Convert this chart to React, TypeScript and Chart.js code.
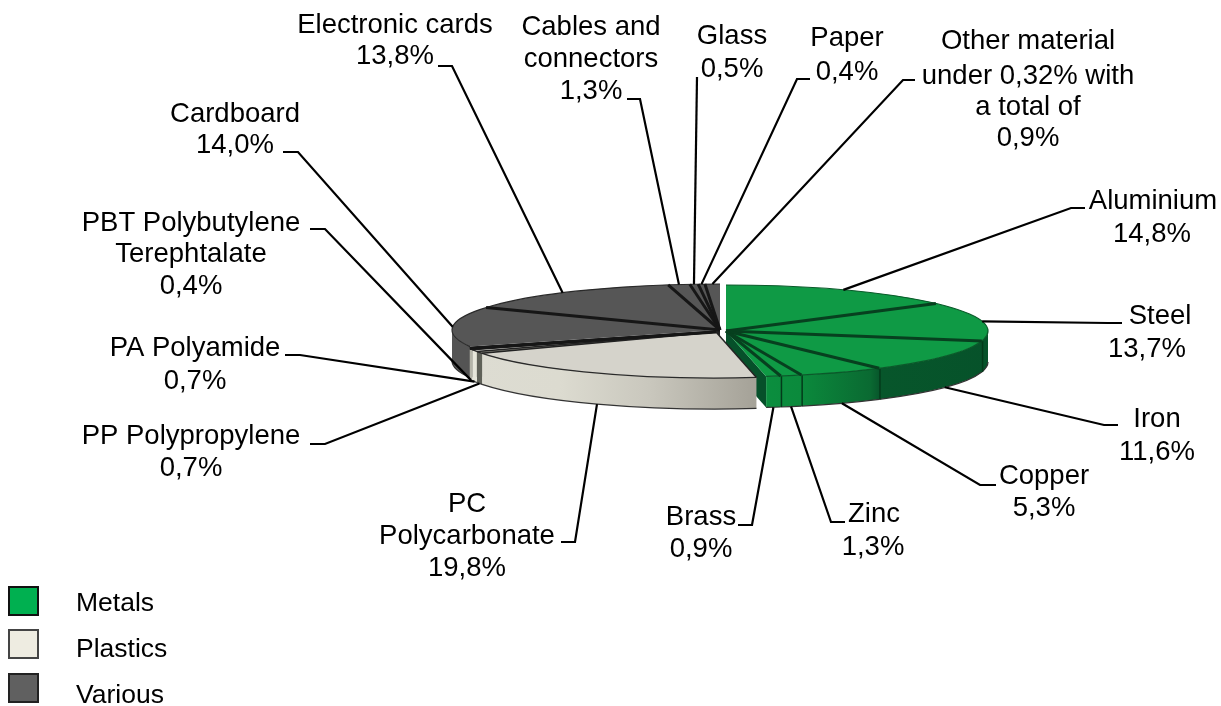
import React, { useEffect, useRef } from "react";
import { Chart, registerables } from "chart.js";

Chart.register(...registerables);

// ---------- data ----------
const categories = [
  "Aluminium", "Steel", "Iron", "Copper", "Zinc", "Brass",
  "PC Polycarbonate", "PP Polypropylene", "PA Polyamide", "PBT Polybutylene Terephtalate",
  "Cardboard", "Electronic cards", "Cables and connectors", "Glass", "Paper",
  "Other material under 0,32% with a total of",
];
const values = [14.8, 13.7, 11.6, 5.3, 1.3, 0.9, 19.8, 0.7, 0.7, 0.4, 14.0, 13.8, 1.3, 0.5, 0.4, 0.9];
const materialGroup = [0, 0, 0, 0, 0, 0, 1, 1, 1, 1, 2, 2, 2, 2, 2, 2];
const legendNames = ["Metals", "Plastics", "Various"];

// ---------- styles & layout ----------
const topColors = ["#0f9a45", "#d5d3cb", "#565656"];
const sliceOverride: Record<number, string> = { 7: "#8a8a80", 8: "#f4f4ee", 9: "#e8e8e0" };
const rimOverride: Record<number, string> = { 7: "#5f6158", 8: "#e6e6da", 9: "#b4b4a8" };
const legendFill = ["#00b050", "#eeece1", "#606060"];
const legendEdge = ["#111111", "#444444", "#222222"];
const separators = ["#07401f", "#222222", "#161616"];
const CX = 720, CY = 331, RY = 46, DEPTH = 31;
const GROUP_GEOM = [
  { x: 6, y: 0, rx: 262 },
  { x: -4, y: 1, rx: 264 },
  { x: 0, y: -1, rx: 268 },
];
const DRAW_ORDER = [2, 0, 1];
const LABEL_FONT = '27.5px "Liberation Sans", Arial, sans-serif';
const LEGEND_FONT = '26.5px "Liberation Sans", Arial, sans-serif';

type Lbl = { lines: string[]; x: number[]; y: number[]; from: number[]; elbow: number[] };
const labelLayout: Lbl[] = [
  { lines: ["Aluminium"], x: [1153, 1152], y: [201, 234], from: [1085, 208], elbow: [1071, 208] },
  { lines: ["Steel"], x: [1160, 1147], y: [316, 349], from: [1122, 323], elbow: [1108, 323] },
  { lines: ["Iron"], x: [1157, 1157], y: [419, 452], from: [1118, 425], elbow: [1104, 425] },
  { lines: ["Copper"], x: [1044, 1044], y: [476, 508], from: [996, 485], elbow: [980, 485] },
  { lines: ["Zinc"], x: [874, 873], y: [514, 547], from: [845, 522], elbow: [831, 522] },
  { lines: ["Brass"], x: [701, 701], y: [517, 549], from: [738, 525], elbow: [752, 525] },
  { lines: ["PC", "Polycarbonate"], x: [467, 467, 467], y: [504, 536, 568], from: [561, 542], elbow: [575, 542] },
  { lines: ["PP Polypropylene"], x: [191, 191], y: [436, 468], from: [310, 444], elbow: [325, 444] },
  { lines: ["PA Polyamide"], x: [195, 195], y: [348, 381], from: [285, 355], elbow: [300, 355] },
  { lines: ["PBT Polybutylene", "Terephtalate"], x: [191, 191, 191], y: [223, 254, 286], from: [310, 229], elbow: [325, 229] },
  { lines: ["Cardboard"], x: [235, 235], y: [114, 145], from: [283, 152], elbow: [298, 152] },
  { lines: ["Electronic cards"], x: [395, 395], y: [25, 56], from: [438, 66], elbow: [452, 66] },
  { lines: ["Cables and", "connectors"], x: [591, 591, 591], y: [27, 59, 91], from: [627, 99], elbow: [640, 99] },
  { lines: ["Glass"], x: [732, 732], y: [36, 69], from: [697, 77], elbow: [697, 77] },
  { lines: ["Paper"], x: [847, 847], y: [38, 72], from: [810, 79], elbow: [797, 79] },
  { lines: ["Other material", "under 0,32% with", "a total of"], x: [1028, 1028, 1028, 1028], y: [41, 76, 107, 138], from: [915, 80], elbow: [903, 80] },
];
const legendBoxes = [[9, 587], [9, 630], [9, 674]];
const legendTextY = [604, 650, 696];

function rimFill(ctx: CanvasRenderingContext2D, group: number) {
  if (group === 2) return "#545454";
  const g = ctx.createLinearGradient(470, 0, 990, 0);
  const at = (x: number) => (x - 470) / 520;
  if (group === 0) {
    g.addColorStop(at(755), "#0b8f3f");
    g.addColorStop(at(800), "#0b8a3c");
    g.addColorStop(at(870), "#0a6a32");
    g.addColorStop(at(880), "#07562b");
    g.addColorStop(1, "#06522a");
  } else {
    g.addColorStop(0, "#dddcd2");
    g.addColorStop(at(560), "#dcdbd0");
    g.addColorStop(at(650), "#c9c7bd");
    g.addColorStop(at(752), "#a6a399");
  }
  return g;
}

const pie3d = {
  id: "pie3d",
  beforeDatasetDraw(chart: any) {
    const ctx: CanvasRenderingContext2D = chart.ctx;
    const arcs: any[] = chart.getDatasetMeta(0).data;
    const R: number = arcs[0].outerRadius;
    const pt = (g: number, a: number) => ({
      x: CX + GROUP_GEOM[g].x + GROUP_GEOM[g].rx * Math.cos(a),
      y: CY + GROUP_GEOM[g].y + RY * Math.sin(a),
    });

    ctx.save();
    for (const g of DRAW_ORDER) {
      const cx = CX + GROUP_GEOM[g].x, cy = CY + GROUP_GEOM[g].y, rx = GROUP_GEOM[g].rx;
      const idx = arcs.map((_, i) => i).filter((i) => materialGroup[i] === g);

      // end wall facing the viewer
      const lastEnd = g === 0 ? arcs[idx[idx.length - 1]].endAngle : g === 2 ? arcs[idx[0]].startAngle : null;
      if (lastEnd !== null) {
        const p = pt(g, lastEnd);
        ctx.beginPath();
        ctx.moveTo(cx, cy);
        ctx.lineTo(p.x, p.y);
        ctx.lineTo(p.x, p.y + DEPTH);
        ctx.lineTo(cx, cy + DEPTH);
        ctx.closePath();
        ctx.fillStyle = g === 0 ? "#06502a" : "#222222";
        ctx.fill();
      }

      // rim
      for (const i of idx) {
        const lo = Math.max(arcs[i].startAngle, 0);
        const hi = Math.min(arcs[i].endAngle, Math.PI);
        if (hi <= lo) continue;
        ctx.beginPath();
        ctx.ellipse(cx, cy, rx, RY, 0, lo, hi);
        ctx.ellipse(cx, cy + DEPTH, rx, RY, 0, hi, lo, true);
        ctx.closePath();
        ctx.fillStyle = rimOverride[i] ?? rimFill(ctx, g);
        ctx.fill();
        // lower edge
        ctx.beginPath();
        ctx.ellipse(cx, cy + DEPTH, rx, RY, 0, lo, hi);
        ctx.strokeStyle = "#333333";
        ctx.lineWidth = 1.2;
        ctx.stroke();
        // vertical seam on the rim
        if (g === 0 && i < idx[idx.length - 1] && arcs[i].endAngle > 0) {
          const p = pt(g, arcs[i].endAngle);
          ctx.beginPath();
          ctx.moveTo(p.x, p.y);
          ctx.lineTo(p.x, p.y + DEPTH);
          ctx.strokeStyle = "#033a1a";
          ctx.lineWidth = 3;
          ctx.stroke();
        }
      }

      // top faces, squashed pie elements from the chart
      for (const i of idx) {
        ctx.save();
        ctx.translate(cx, cy);
        ctx.scale(rx / R, RY / R);
        ctx.translate(-arcs[i].x, -arcs[i].y);
        arcs[i].draw(ctx);
        ctx.restore();
      }

      // outline of the top face
      ctx.beginPath();
      ctx.ellipse(cx, cy, rx, RY, 0, arcs[idx[0]].startAngle, arcs[idx[idx.length - 1]].endAngle);
      ctx.strokeStyle = g === 0 ? "#0a5a2a" : "#2a2a2a";
      ctx.lineWidth = 1.2;
      ctx.stroke();

      // radial separators
      idx.forEach((i, n) => {
        if (n === 0 && g !== 1) return;
        const p = pt(g, arcs[i].startAngle);
        ctx.beginPath();
        ctx.moveTo(cx, cy);
        ctx.lineTo(p.x, p.y);
        ctx.strokeStyle = separators[g];
        ctx.lineWidth = g === 1 ? 1.5 : 3;
        ctx.stroke();
      });
      if (g === 1) {
        const p = pt(g, arcs[idx[idx.length - 1]].endAngle);
        ctx.beginPath();
        ctx.moveTo(cx, cy);
        ctx.lineTo(p.x, p.y);
        ctx.strokeStyle = "#161616";
        ctx.lineWidth = 3;
        ctx.stroke();
      }
    }
    ctx.restore();
    return false;
  },
  afterDatasetsDraw(chart: any) {
    const ctx: CanvasRenderingContext2D = chart.ctx;
    const arcs: any[] = chart.getDatasetMeta(0).data;
    ctx.save();

    // leader lines and labels
    ctx.strokeStyle = "#000000";
    ctx.lineWidth = 2.2;
    ctx.lineJoin = "miter";
    labelLayout.forEach((l, i) => {
      const mid = (arcs[i].startAngle + arcs[i].endAngle) / 2;
      const geom = GROUP_GEOM[materialGroup[i]];
      const front = Math.sin(mid) > 0.15;
      const ex = CX + geom.x + geom.rx * Math.cos(mid);
      const ey = CY + geom.y + RY * Math.sin(mid) + (front ? DEPTH : 0);
      ctx.strokeStyle = "#000000";
      ctx.lineWidth = 2.2;
      ctx.beginPath();
      ctx.moveTo(l.from[0], l.from[1]);
      ctx.lineTo(l.elbow[0], l.elbow[1]);
      ctx.lineTo(ex, ey);
      ctx.stroke();

      const text = [...l.lines, values[i].toFixed(1).replace(".", ",") + "%"];
      ctx.font = LABEL_FONT;
      ctx.fillStyle = "#000000";
      ctx.textAlign = "center";
      ctx.textBaseline = "middle";
      text.forEach((t, n) => ctx.fillText(t, l.x[n], l.y[n]));
    });

    // legend
    legendNames.forEach((name, i) => {
      const [bx, by] = legendBoxes[i];
      ctx.fillStyle = legendFill[i];
      ctx.fillRect(bx, by, 29, 28);
      ctx.strokeStyle = legendEdge[i];
      ctx.lineWidth = 2;
      ctx.strokeRect(bx, by, 29, 28);
      ctx.font = LEGEND_FONT;
      ctx.fillStyle = "#000000";
      ctx.textAlign = "left";
      ctx.textBaseline = "middle";
      ctx.fillText(name, 76, legendTextY[i]);
    });
    ctx.restore();
  },
};

export default function App() {
  const ref = useRef<HTMLCanvasElement>(null);
  useEffect(() => {
    document.body.style.margin = "0";
    document.body.style.background = "#ffffff";
    const chart = new Chart(ref.current!, {
      type: "pie",
      data: {
        labels: categories,
        datasets: [
          {
            data: values,
            backgroundColor: values.map((_, i) => sliceOverride[i] ?? topColors[materialGroup[i]]),
            borderWidth: 0,
          },
        ],
      },
      options: {
        responsive: false,
        animation: false,
        layout: { padding: { top: 89, bottom: 89 } },
        plugins: { legend: { display: false }, tooltip: { enabled: false } },
      },
      plugins: [pie3d],
    } as any);
    return () => chart.destroy();
  }, []);
  return <canvas ref={ref} width={1221} height={706} style={{ display: "block" }} />;
}
